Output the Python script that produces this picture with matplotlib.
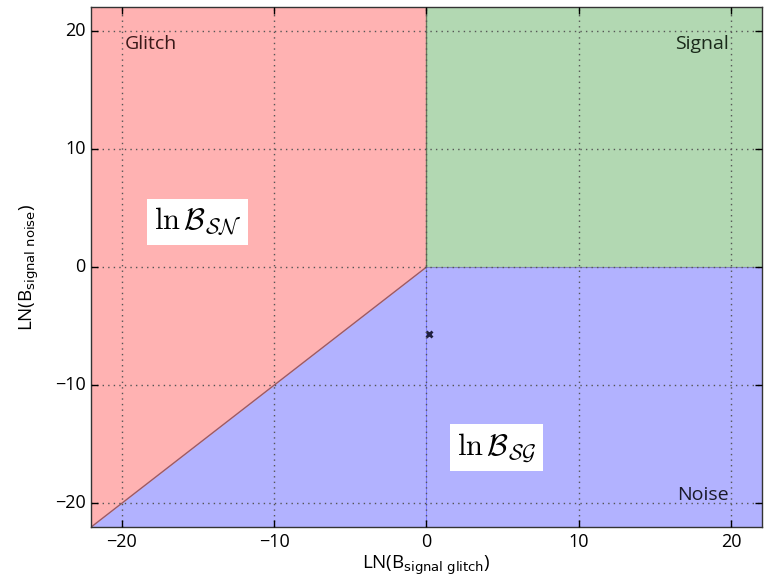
import matplotlib
matplotlib.use("Agg")
import matplotlib.pyplot as plt
import numpy as np

plt.style.use("classic")
plt.rcParams["font.family"] = ["Open Sans", "DejaVu Sans"]

# Axis range for both log Bayes factors
lim = [-22, 22]
x_neg = [-22, 0]
x_pos = [0, 22]

# Single event: ln B_signal/glitch, ln B_signal/noise
event_lnB_sg = [0.15]
event_lnB_sn = [-5.7]

ticks = [-20, -10, 0, 10, 20]

fig = plt.figure(figsize=(7.65, 5.78), dpi=100, facecolor="white")
ax = fig.add_axes([0.119, 0.088, 0.877, 0.900])

# Decision regions
ax.fill_between(x_neg, x_neg, lim[1], color="red", alpha=0.3, lw=0)
ax.fill_between(x_pos, 0, lim[1], color="green", alpha=0.3, lw=0)
ax.fill_between(x_neg, lim[0], x_neg, color="blue", alpha=0.3, lw=0)
ax.fill_between(x_pos, lim[0], 0, color="blue", alpha=0.3, lw=0)
ax.plot(x_neg, x_neg, color="#9a5a66", lw=1)
ax.plot([0, 0], [0, lim[1]], color="#4a6a4a", lw=1, alpha=0.7)
ax.plot(x_pos, [0, 0], color="#5a5a8a", lw=0.8, alpha=0.5)

ax.plot(event_lnB_sg, event_lnB_sn, "x", color="#202040", ms=5, mew=2)

ax.set_xlim(lim)
ax.set_ylim(lim)
ax.set_xticks(ticks)
ax.set_yticks(ticks)
ax.grid(True, color="#555555", linestyle=":", lw=1)
ax.set_axisbelow(False)
ax.tick_params(labelsize=13, length=5, width=1)
for s in ax.spines.values():
    s.set_color("#333333")

ax.set_xlabel(r"LN(B$_{\mathrm{signal\ glitch}}$)", fontsize=13.5,
              math_fontfamily="dejavusans", labelpad=2)
ax.set_ylabel(r"LN(B$_{\mathrm{signal\ noise}}$)", fontsize=13.5,
              math_fontfamily="dejavusans", labelpad=10)

ax.text(-19.8, 18.9, "Glitch", fontsize=14, color="#3a1a1a", ha="left", va="center")
ax.text(19.8, 18.9, "Signal", fontsize=14, color="#1a2a1a", ha="right", va="center")
ax.text(19.8, -19.3, "Noise", fontsize=14, color="#1a1a2a", ha="right", va="center")

box = dict(facecolor="white", edgecolor="none", pad=5)
ax.text(-15.0, 3.8, r"$\ln\mathcal{B}_{\mathcal{SN}}$", fontsize=22, ha="center", va="center",
        math_fontfamily="cm", bbox=box)
ax.text(4.6, -15.3, r"$\ln\mathcal{B}_{\mathcal{SG}}$", fontsize=22, ha="center", va="center",
        math_fontfamily="cm", bbox=box)

fig.savefig("out.png", dpi=100, facecolor="white")
